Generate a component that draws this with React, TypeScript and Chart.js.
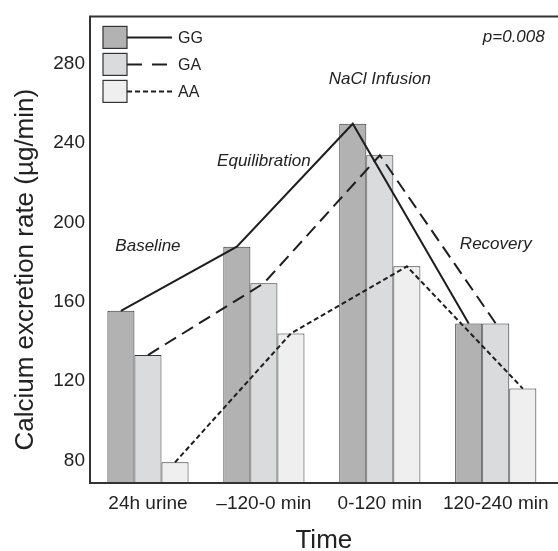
import React, { useEffect, useRef } from "react";
import { Chart, registerables } from "chart.js";
Chart.register(...registerables);

const categories = ["24h urine", "\u2013120-0 min", "0-120 min", "120-240 min"];
const seriesNames = ["GG", "GA", "AA"];
const ggValues = [155.4, 187.7, 249.7, 149];
const gaValues = [133.1, 169.3, 233.8, 149];
const aaValues = [79, 144, 177.8, 116.2];
const yTicks = [80, 120, 160, 200, 240, 280];
const yMin = 68.6;
const yMax = 303.8;
const phaseLabels = ["Baseline", "Equilibration", "NaCl Infusion", "Recovery"];
const phaseLabelValues = [187.7, 231, 272, 188.7];
const pValueText = "p=0.008";
const yTitle = "Calcium excretion rate (\u00b5g/min)";
const xTitle = "Time";

const FONT = "'Liberation Sans', Arial, Helvetica, sans-serif";
const fills = ["#b2b2b2", "#dadbdc", "#efefef"];
const dashes = [[], [13, 7], [5, 3]];
const legendDashes = [[], [15, 10], [5, 3]];
const ink = "#1e1e1e";

const overlay = {
  id: "overlay",
  afterDatasetsDraw(chart: any) {
    const ctx = chart.ctx;
    chart.data.datasets.forEach((_: any, i: number) => {
      const meta = chart.getDatasetMeta(i);
      ctx.save();
      ctx.setLineDash(dashes[i]);
      ctx.lineWidth = 2;
      ctx.strokeStyle = ink;
      ctx.beginPath();
      meta.data.forEach((el: any, j: number) => {
        if (j === 0) ctx.moveTo(el.x, el.y);
        else ctx.lineTo(el.x, el.y);
      });
      ctx.stroke();
      ctx.restore();
    });
  },
  afterDraw(chart: any) {
    const ctx = chart.ctx;
    const { left, right, top, bottom } = chart.chartArea;
    const W = chart.width;
    const xs = chart.scales.x;
    const ys = chart.scales.y;
    ctx.save();
    // frame
    ctx.strokeStyle = "#333";
    ctx.lineWidth = 2;
    ctx.beginPath();
    ctx.moveTo(W, top);
    ctx.lineTo(left, top);
    ctx.lineTo(left, bottom);
    ctx.lineTo(W, bottom);
    ctx.stroke();

    // legend
    seriesNames.forEach((name, i) => {
      const bx = left + 13;
      const by = top + 10 + i * 27;
      ctx.fillStyle = fills[i];
      ctx.fillRect(bx, by, 24, 22);
      ctx.lineWidth = 1.2;
      ctx.strokeStyle = "#333";
      ctx.setLineDash([]);
      ctx.strokeRect(bx, by, 24, 22);
      ctx.beginPath();
      ctx.lineWidth = 2;
      ctx.strokeStyle = ink;
      ctx.setLineDash(legendDashes[i]);
      ctx.moveTo(bx + 24, by + 11);
      ctx.lineTo(bx + 69, by + 11);
      ctx.stroke();
      ctx.setLineDash([]);
      ctx.fillStyle = "#222";
      ctx.font = `16px ${FONT}`;
      ctx.textAlign = "left";
      ctx.textBaseline = "middle";
      ctx.fillText(name, bx + 75, by + 12);
    });

    // phase labels
    ctx.font = `italic 17px ${FONT}`;
    ctx.fillStyle = "#222";
    ctx.textAlign = "center";
    ctx.textBaseline = "middle";
    phaseLabels.forEach((t, i) => {
      ctx.fillText(t, xs.getPixelForValue(i), ys.getPixelForValue(phaseLabelValues[i]));
    });
    ctx.textAlign = "right";
    ctx.fillText(pValueText, right - 9, top + 21);

    // axis titles
    ctx.font = `26px ${FONT}`;
    ctx.textAlign = "center";
    ctx.textBaseline = "alphabetic";
    ctx.fillText(xTitle, (left + right) / 2 + 2, 548);
    ctx.translate(33, (top + bottom) / 2 + 20);
    ctx.rotate(-Math.PI / 2);
    ctx.fillText(yTitle, 0, 0);
    ctx.restore();
  },
};

export default function App() {
  const ref = useRef<HTMLCanvasElement>(null);
  useEffect(() => {
    document.body.style.margin = "0";
    const chart = new Chart(ref.current!, {
      type: "bar",
      data: {
        labels: categories,
        datasets: [ggValues, gaValues, aaValues].map((vals, i) => ({
          label: seriesNames[i],
          data: vals,
          backgroundColor: fills[i],
          borderColor: "#333",
          borderWidth: 1,
          categoryPercentage: 0.7,
          barPercentage: 1,
        })),
      },
      options: {
        animation: false,
        responsive: false,
        layout: { padding: { top: 9, right: 3.5, left: 0, bottom: 0 } },
        plugins: { legend: { display: false }, tooltip: { enabled: false } },
        scales: {
          x: {
            grid: { display: false, drawTicks: false },
            border: { display: false },
            ticks: { font: { family: FONT, size: 19 }, color: "#222", padding: 9, maxRotation: 0 },
            afterFit: (s: any) => { s.height = 68; },
          },
          y: {
            min: yMin,
            max: yMax,
            grid: { display: false, drawTicks: false },
            border: { display: false },
            ticks: { font: { family: FONT, size: 19 }, color: "#222", padding: 5 },
            afterBuildTicks: (s: any) => { s.ticks = yTicks.map((v) => ({ value: v })); },
            afterFit: (s: any) => { s.width = 90; },
          },
        },
      },
      plugins: [overlay],
    });
    return () => chart.destroy();
  }, []);
  return (
    <div style={{ width: 558, height: 551 }}>
      <canvas ref={ref} width={558} height={551} />
    </div>
  );
}
